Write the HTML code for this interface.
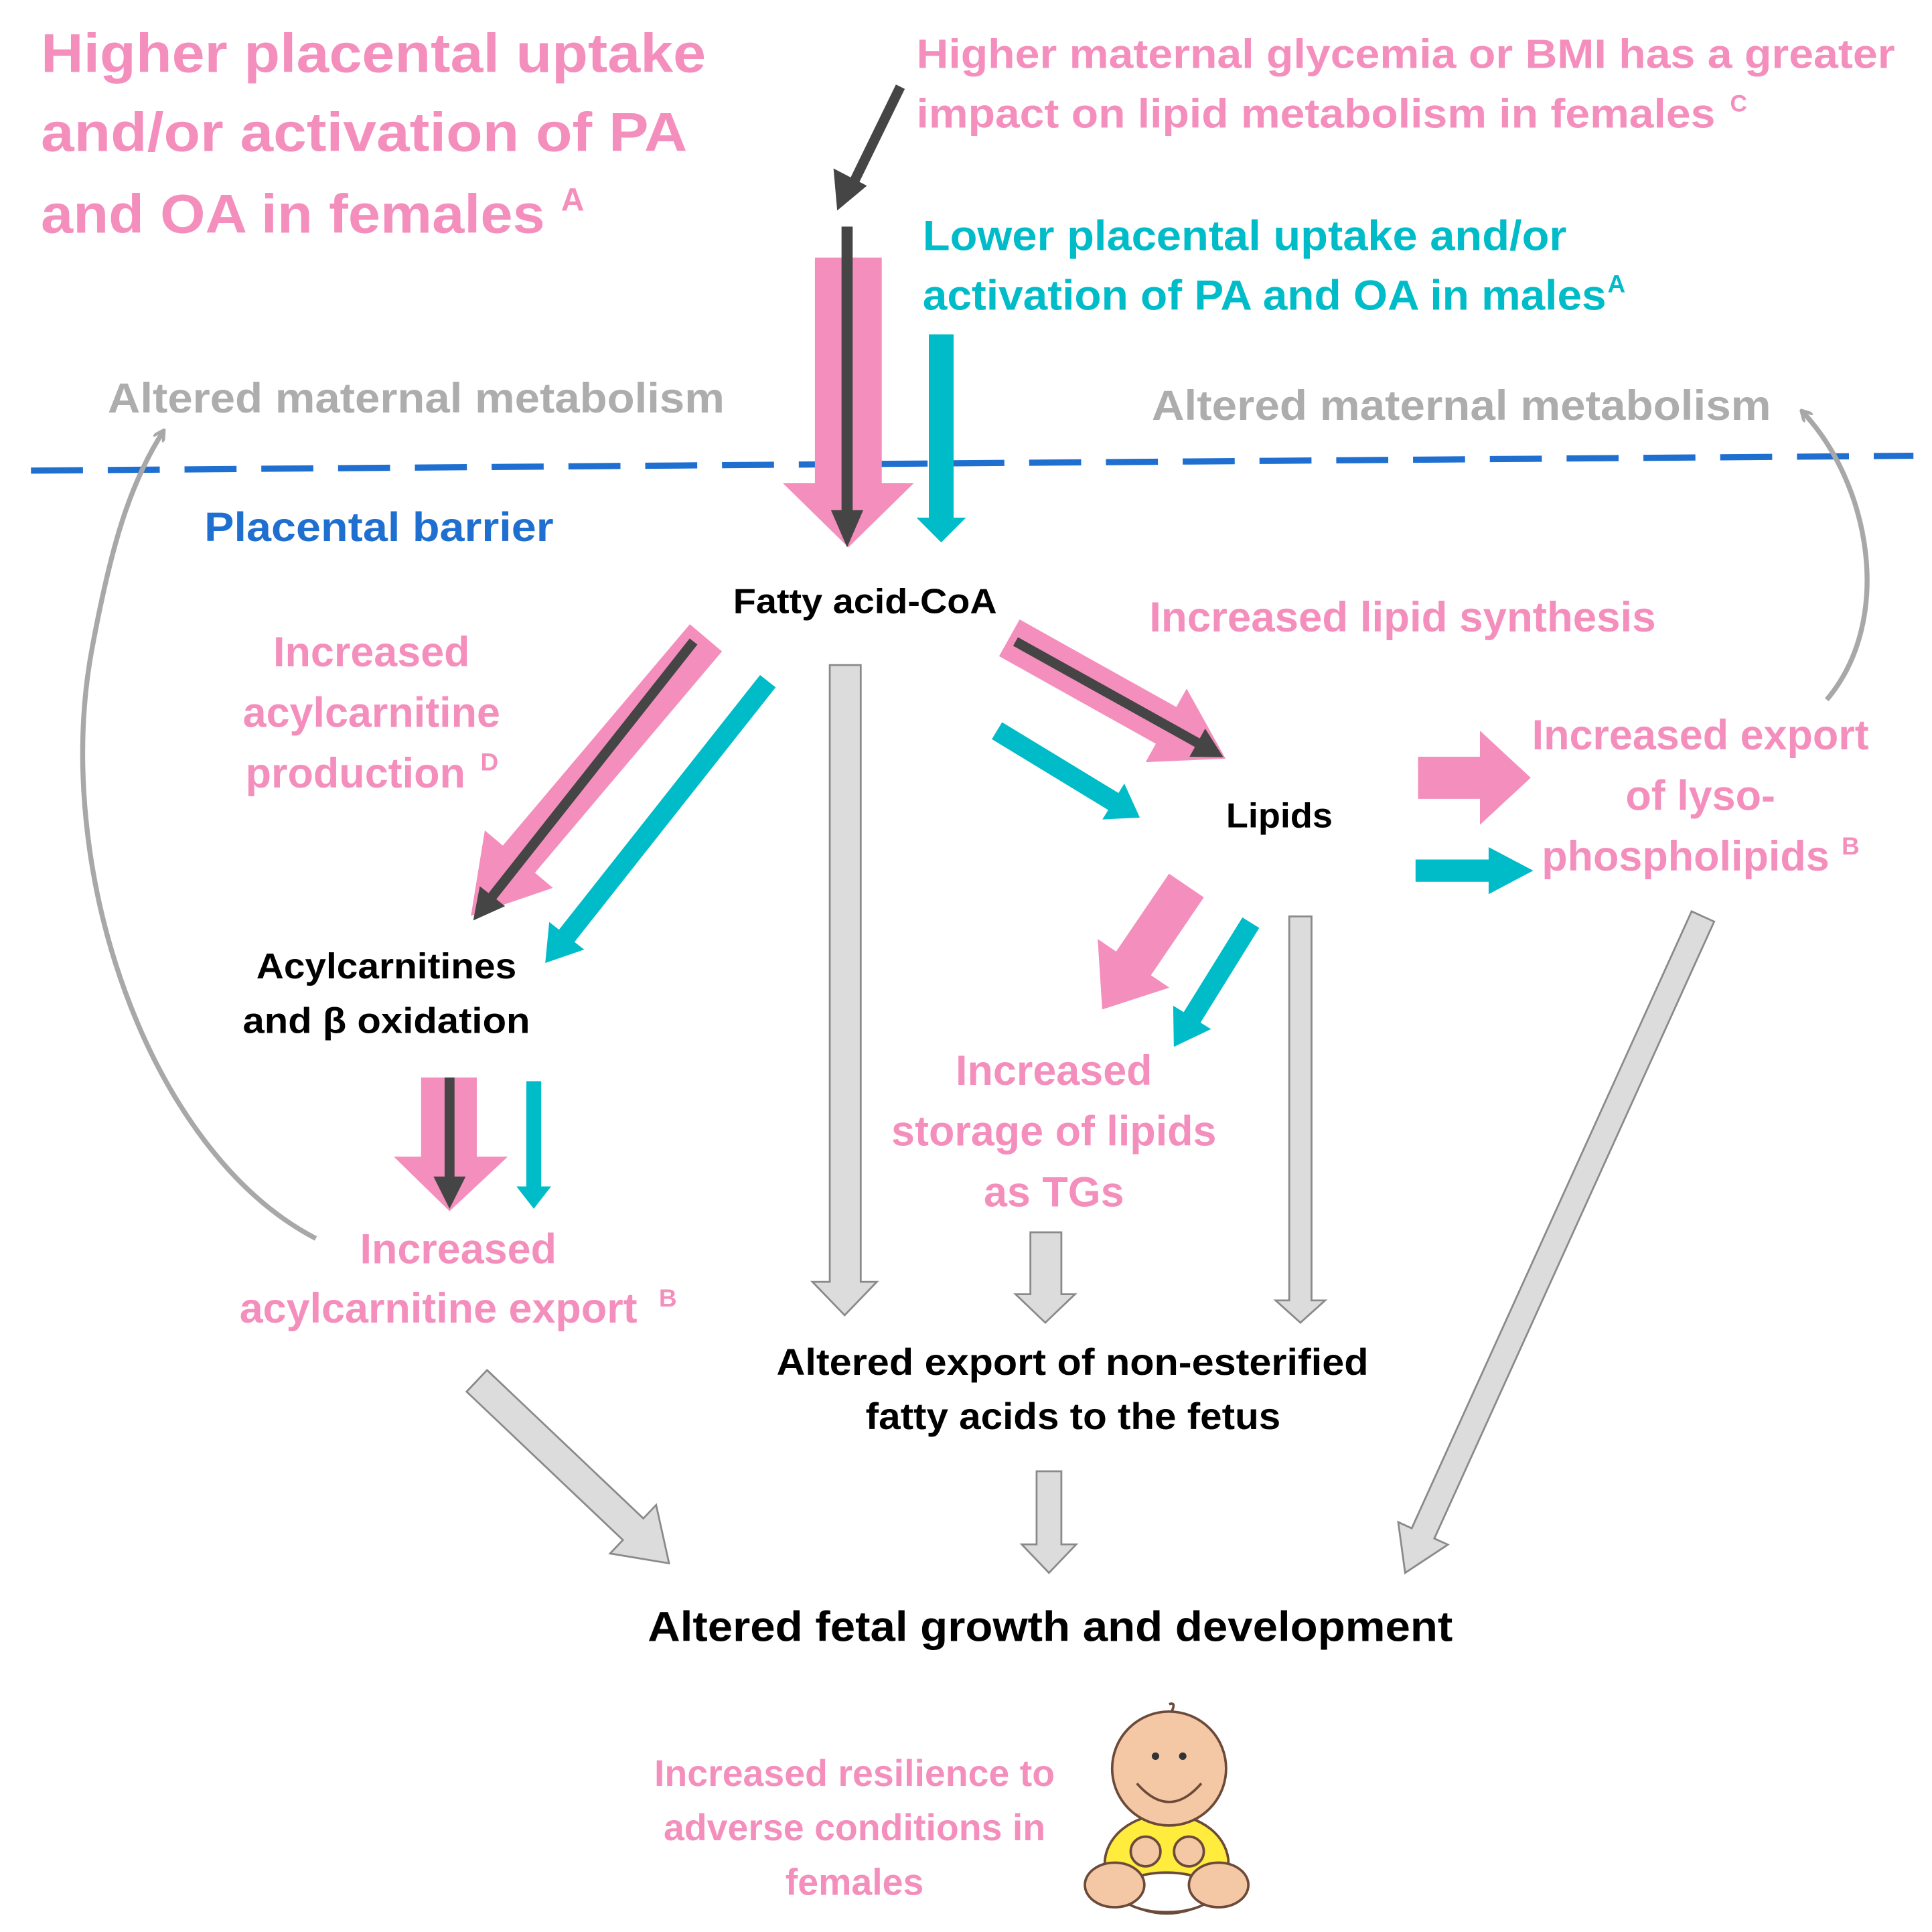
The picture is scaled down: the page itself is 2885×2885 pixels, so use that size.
<!DOCTYPE html>
<html><head><meta charset="utf-8"><style>
html,body{margin:0;padding:0;background:#fff}
svg{display:block}
text{font-family:"Liberation Sans",sans-serif;font-weight:bold}
.p{fill:#f48fbd}.c{fill:#00bcc8}.g{fill:#adadad}.k{fill:#000}
.ga{fill:#dcdcdc;stroke:#8a8a8a;stroke-width:1.5}
</style></head><body>
<svg width="2885" height="2885" viewBox="0 0 1560 1560" xmlns="http://www.w3.org/2000/svg">
<defs>
<marker id="gh" markerWidth="10" markerHeight="10" refX="8" refY="5" orient="auto" markerUnits="userSpaceOnUse"><path d="M0,0 L9,5 L0,10" fill="none" stroke="#a8a8a8" stroke-width="2.5"/></marker>
</defs>

<text class="p" font-size="44" x="33" y="58" textLength="537" lengthAdjust="spacingAndGlyphs">Higher placental uptake</text>
<text class="p" font-size="44" x="33" y="122" textLength="522" lengthAdjust="spacingAndGlyphs">and/or activation of PA</text>
<text class="p" font-size="44" x="33" y="188" textLength="407" lengthAdjust="spacingAndGlyphs">and OA in females</text>
<text class="p" font-size="26" x="453" y="170">A</text>

<text class="p" font-size="33" x="740" y="55" textLength="790" lengthAdjust="spacingAndGlyphs">Higher maternal glycemia or BMI has a greater</text>
<text class="p" font-size="33" x="740" y="103" textLength="645" lengthAdjust="spacingAndGlyphs">impact on lipid metabolism in females</text>
<text class="p" font-size="19" x="1397" y="90">C</text>

<text class="c" font-size="34" x="745" y="202" textLength="520" lengthAdjust="spacingAndGlyphs">Lower placental uptake and/or</text>
<text class="c" font-size="34" x="745" y="250" textLength="552" lengthAdjust="spacingAndGlyphs">activation of PA and OA in males</text>
<text class="c" font-size="20" x="1298" y="236">A</text>

<text class="g" font-size="34" x="87" y="333" textLength="498" lengthAdjust="spacingAndGlyphs">Altered maternal metabolism</text>
<text class="g" font-size="34" x="930" y="339" textLength="500" lengthAdjust="spacingAndGlyphs">Altered maternal metabolism</text>

<line x1="25" y1="380" x2="1545" y2="368" stroke="#1f6fd0" stroke-width="5" stroke-dasharray="42 20"/>
<text font-size="33" x="165" y="437" fill="#1f6fd0" textLength="282" lengthAdjust="spacingAndGlyphs">Placental barrier</text>

<path d="M255,1000 C120,930 40,700 75,520 C90,440 105,390 132,348" fill="none" stroke="#a8a8a8" stroke-width="4" marker-end="url(#gh)"/>
<path d="M1475,565 C1530,500 1510,390 1455,332" fill="none" stroke="#a8a8a8" stroke-width="4" marker-end="url(#gh)"/>

<line x1="727" y1="70" x2="688" y2="150" stroke="#454545" stroke-width="8"/>
<polygon points="676,170 673,136 700,150" fill="#454545"/>

<polygon points="658,208 712,208 712,390 738,390 685,442 632,390 658,390" fill="#f48fbd"/>
<line x1="684" y1="183" x2="684" y2="415" stroke="#454545" stroke-width="9"/>
<polygon points="671,412 697,412 684,442" fill="#454545"/>
<polygon points="750,270 770,270 770,418 780,418 760,438 740,418 750,418" fill="#00bcc8"/>

<text class="k" font-size="28" x="592" y="495" textLength="213" lengthAdjust="spacingAndGlyphs">Fatty acid-CoA</text>

<g transform="translate(570,515) rotate(130.2)"><polygon points="0,-17 234,-17 234,-36 294,0 234,36 234,17 0,17" fill="#f48fbd"/></g>
<g transform="translate(560,518) rotate(128.3)"><polygon points="0,-4 262,-4 262,-13 287,0 262,13 262,4 0,4" fill="#454545"/></g>
<g transform="translate(620,550) rotate(128.3)"><polygon points="0,-8 262,-8 262,-18 290,0 262,18 262,8 0,8" fill="#00bcc8"/></g>

<text class="p" font-size="34" x="300" y="538" text-anchor="middle">Increased</text>
<text class="p" font-size="34" x="300" y="587" text-anchor="middle">acylcarnitine</text>
<text class="p" font-size="34" x="287" y="636" text-anchor="middle">production</text>
<text class="p" font-size="20" x="388" y="622">D</text>

<polygon class="ga" points="670,537 695,537 695,1035 708,1035 682,1062 656,1035 670,1035"/>

<g transform="translate(815,515) rotate(29.2)"><polygon points="0,-17 145,-17 145,-34 200,0 145,34 145,17 0,17" fill="#f48fbd"/></g>
<g transform="translate(820,518) rotate(29.1)"><polygon points="0,-4 168,-4 168,-13 192,0 168,13 168,4 0,4" fill="#454545"/></g>
<g transform="translate(805,590) rotate(31.3)"><polygon points="0,-8 110,-8 110,-17 135,0 110,17 110,8 0,8" fill="#00bcc8"/></g>

<text class="p" font-size="34" x="928" y="510" textLength="409" lengthAdjust="spacingAndGlyphs">Increased lipid synthesis</text>
<text class="k" font-size="28" x="990" y="668" textLength="86" lengthAdjust="spacingAndGlyphs">Lipids</text>

<polygon points="1145,611 1195,611 1195,590 1236,628 1195,666 1195,645 1145,645" fill="#f48fbd"/>
<polygon points="1143,694 1202,694 1202,684 1238,703 1202,722 1202,712 1143,712" fill="#00bcc8"/>
<text class="p" font-size="34" x="1373" y="605" text-anchor="middle">Increased export</text>
<text class="p" font-size="34" x="1373" y="654" text-anchor="middle">of lyso-</text>
<text class="p" font-size="34" x="1361" y="703" text-anchor="middle">phospholipids</text>
<text class="p" font-size="20" x="1487" y="690">B</text>

<g transform="translate(958,715) rotate(124.2)"><polygon points="0,-17 76,-17 76,-35 121,0 76,35 76,17 0,17" fill="#f48fbd"/></g>
<g transform="translate(1010,745) rotate(121.8)"><polygon points="0,-8 90,-8 90,-18 118,0 90,18 90,8 0,8" fill="#00bcc8"/></g>
<polygon class="ga" points="1041,740 1059,740 1059,1050 1070,1050 1050,1068 1030,1050 1041,1050"/>

<text class="p" font-size="34" x="851" y="876" text-anchor="middle">Increased</text>
<text class="p" font-size="34" x="851" y="925" text-anchor="middle">storage of lipids</text>
<text class="p" font-size="34" x="851" y="974" text-anchor="middle">as TGs</text>
<polygon class="ga" points="832,995 857,995 857,1045 868,1045 844,1068 820,1045 832,1045"/>

<text class="k" font-size="29" x="207" y="790" textLength="210" lengthAdjust="spacingAndGlyphs">Acylcarnitines</text>
<text class="k" font-size="29" x="196" y="834" textLength="232" lengthAdjust="spacingAndGlyphs">and β oxidation</text>

<polygon points="340,870 385,870 385,934 410,934 363,978 318,934 340,934" fill="#f48fbd"/>
<line x1="363" y1="870" x2="363" y2="955" stroke="#454545" stroke-width="8"/>
<polygon points="350,950 376,950 363,976" fill="#454545"/>
<polygon points="425,873 437,873 437,958 445,958 431,976 417,958 425,958" fill="#00bcc8"/>

<text class="p" font-size="34" x="370" y="1020" text-anchor="middle">Increased</text>
<text class="p" font-size="34" x="354" y="1068" text-anchor="middle">acylcarnitine export</text>
<text class="p" font-size="20" x="532" y="1055">B</text>

<text class="k" font-size="30" x="627" y="1110" textLength="478" lengthAdjust="spacingAndGlyphs">Altered export of non-esterified</text>
<text class="k" font-size="30" x="699" y="1154" textLength="335" lengthAdjust="spacingAndGlyphs">fatty acids to the fetus</text>

<g transform="translate(385,1115) rotate(43.5)"><polygon class="ga" points="0,-12 174,-12 174,-27 214,0 174,27 174,12 0,12"/></g>
<polygon class="ga" points="837,1188 857,1188 857,1247 869,1247 847,1270 825,1247 837,1247"/>
<g transform="translate(1375,740) rotate(114.4)"><polygon class="ga" points="0,-10 547,-10 547,-22 582,0 547,22 547,10 0,10"/></g>

<text class="k" font-size="34" x="523" y="1325" textLength="650" lengthAdjust="spacingAndGlyphs">Altered fetal growth and development</text>

<text class="p" font-size="30" x="690" y="1442" text-anchor="middle">Increased resilience to</text>
<text class="p" font-size="30" x="690" y="1486" text-anchor="middle">adverse conditions in</text>
<text class="p" font-size="30" x="690" y="1530" text-anchor="middle">females</text>

<g stroke="#6b4a3a" stroke-width="2">
<ellipse cx="942" cy="1505" rx="50" ry="40" fill="#ffec3d"/>
<ellipse cx="942" cy="1528" rx="38" ry="16" fill="#fff"/>
<ellipse cx="900" cy="1522" rx="24" ry="18" fill="#f5c8a5"/>
<ellipse cx="984" cy="1522" rx="24" ry="18" fill="#f5c8a5"/>
<circle cx="925" cy="1495" r="12" fill="#f5c8a5"/>
<circle cx="960" cy="1495" r="12" fill="#f5c8a5"/>
<circle cx="944" cy="1428" r="46" fill="#f5c8a5"/>
<path d="M918,1440 Q944,1470 970,1440" fill="none"/>
<path d="M946,1382 q4,-8 -2,-6" fill="none"/>
</g>
<circle cx="933" cy="1418" r="3" fill="#333"/><circle cx="955" cy="1418" r="3" fill="#333"/>
</svg>
</body></html>
